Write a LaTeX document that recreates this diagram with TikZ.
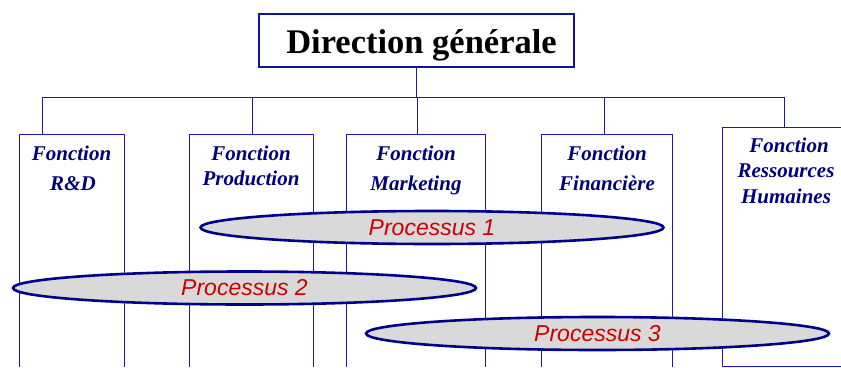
\documentclass[tikz,border=0pt]{standalone}
\usepackage{fontspec}
\usetikzlibrary{shapes.geometric}
\newfontfamily\tnr{Liberation Serif}
\newfontfamily\arl{Liberation Sans}
\definecolor{lineblue}{RGB}{24,24,200}
\definecolor{navy}{RGB}{0,0,128}
\definecolor{procblue}{RGB}{0,0,140}
\definecolor{procfill}{RGB}{217,217,217}
\definecolor{procred}{RGB}{204,0,0}
\begin{document}
\begin{tikzpicture}[x=1pt,y=-1pt,
  conn/.style={draw=lineblue,line width=0.9pt},
  fbox/.style={draw=lineblue,line width=0.9pt,rectangle,inner sep=0pt},
  titlebox/.style={draw=lineblue!80!black,line width=1.2pt,rectangle,inner sep=0pt,minimum width=315pt,minimum height=53pt},
  titletext/.style={anchor=base,inner sep=0pt,font=\tnr\bfseries\fontsize{34.5}{40}\selectfont},
  lab/.style={anchor=base,inner sep=0pt,text=navy,font=\tnr\bfseries\itshape\fontsize{21}{25}\selectfont},
  proc/.style={ellipse,draw=procblue,line width=2.6pt,fill=procfill,inner sep=0pt,minimum height=33pt,minimum width=463pt,text=procred,font=\arl\itshape\fontsize{23}{27}\selectfont}]
\useasboundingbox (0,0) rectangle (841,367);
% title
\node[titlebox] (dg) at (416.5,40.5) {};
\node[titletext] (dgt) at (421.5,53) {Direction générale};
% function boxes (open at the bottom, cut by the picture edge)
\node[rectangle,inner sep=0pt,minimum width=105pt,minimum height=233pt,anchor=north west] (rd) at (19,134) {};
\node[rectangle,inner sep=0pt,minimum width=124pt,minimum height=233pt,anchor=north west] (pr) at (189,134) {};
\node[rectangle,inner sep=0pt,minimum width=139pt,minimum height=233pt,anchor=north west] (mk) at (346,134) {};
\node[rectangle,inner sep=0pt,minimum width=131pt,minimum height=233pt,anchor=north west] (fi) at (541,134) {};
\node[rectangle,inner sep=0pt,minimum width=119pt,minimum height=239pt,anchor=north west] (rh) at (722,127) {};
\foreach \b in {rd,pr,mk,fi}
  \draw[conn] (\b.south west) -- (\b.north west) -- (\b.north east) -- (\b.south east);
\draw[conn] (rh.north east) -- (rh.north west) -- (rh.south west) -- (rh.south east);
% bus
\coordinate (busL) at (42,97);
\coordinate (busR) at (784,97);
\draw[conn] (busL) -- (busR);
\draw[conn] (dg.south) -- (dg.south |- busL);
\draw[conn] (busL) -- (busL |- rd.north);
\draw[conn] (pr.north -| 252,0) -- (252,97);
\draw[conn] (mk.north -| 417,0) -- (417,97);
\draw[conn] (fi.north -| 604,0) -- (604,97);
\draw[conn] (busR) -- (busR |- rh.north);
% labels
\node[lab] (rd1) at (71.5,160) {Fonction};
\node[lab] (rd2) at (73,190.5) {R\&D};
\node[lab] (pr1) at (251,160) {Fonction};
\node[lab] (pr2) at (251,185.5) {Production};
\node[lab] (mk1) at (416,160) {Fonction};
\node[lab] (mk2) at (416,190) {Marketing};
\node[lab] (fi1) at (607,160) {Fonction};
\node[lab] (fi2) at (607,190) {Financière};
\node[lab] (rh1) at (789,152) {Fonction};
\node[lab] (rh2) at (786,177) {Ressources};
\node[lab] (rh3) at (786,203) {Humaines};
% processes
\node[proc] (p1) at (432,227.5) {Processus 1};
\node[proc] (p2) at (244.5,288) {Processus 2};
\node[proc] (p3) at (597.5,333.5) {Processus 3};
\end{tikzpicture}
\end{document}
